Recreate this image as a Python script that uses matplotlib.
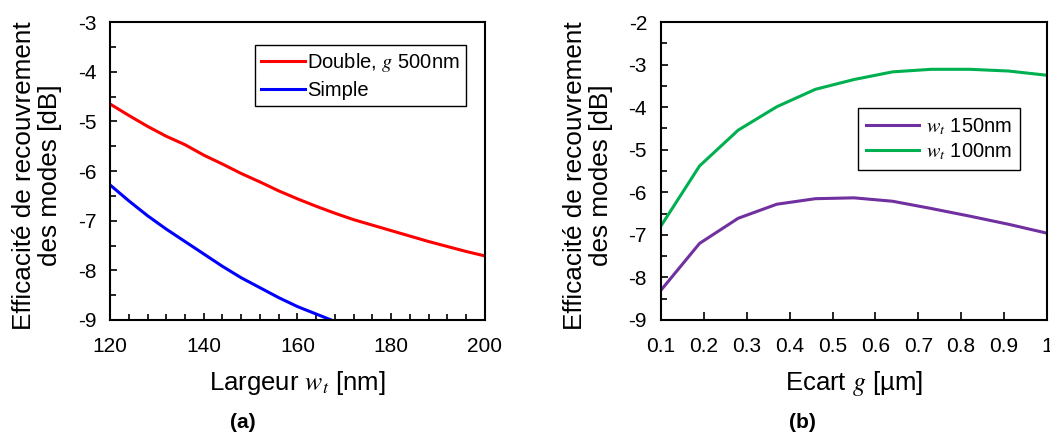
import matplotlib
matplotlib.use('AGG')
import matplotlib.pyplot as plt
from matplotlib.ticker import MultipleLocator

plt.rcParams['font.family'] = ['Liberation Sans', 'DejaVu Sans']
plt.rcParams['mathtext.fontset'] = 'stix'
plt.rcParams['axes.unicode_minus'] = False

# (a) largeur w_t [nm]
largeur = [120, 124, 128, 132, 136, 140, 144, 148, 152, 156, 160,
           164, 168, 172, 176, 180, 184, 188, 192, 196, 200]
double_g500 = [-4.65, -4.88, -5.10, -5.30, -5.47, -5.68, -5.86, -6.05, -6.22, -6.40, -6.56,
               -6.71, -6.85, -6.98, -7.09, -7.20, -7.31, -7.42, -7.52, -7.62, -7.71]
largeur_simple = [120, 124, 128, 132, 136, 140, 144, 148, 152, 156, 160, 164, 168, 172]
simple = [-6.28, -6.60, -6.90, -7.17, -7.42, -7.67, -7.92, -8.15, -8.35, -8.55, -8.73,
          -8.88, -9.03, -9.20]

# (b) ecart g [um]
ecart = [0.10, 0.19, 0.28, 0.37, 0.46, 0.55, 0.64, 0.73, 0.82, 0.91, 1.00]
wt150 = [-8.30, -7.20, -6.61, -6.28, -6.15, -6.13, -6.21, -6.38, -6.56, -6.75, -6.96]
wt100 = [-6.79, -5.38, -4.54, -3.99, -3.58, -3.35, -3.17, -3.11, -3.11, -3.15, -3.25]

ylab = 'Efficacité de recouvrement\ndes modes [dB]'

fig = plt.figure(figsize=(10.5, 4.44), dpi=100)
ax1 = fig.add_axes([0.1048, 0.2793, 0.357, 0.671])
ax2 = fig.add_axes([0.6295, 0.2793, 0.3676, 0.671])

ax1.plot(largeur, double_g500, color='#FF0000', lw=2.2, label='Double, $g$ 500nm')
ax1.plot(largeur_simple, simple, color='#0000FF', lw=2.2, label='Simple')
ax1.set_xlim(120, 200)
ax1.set_ylim(-9, -3)
ax1.xaxis.set_major_locator(MultipleLocator(20))
ax1.xaxis.set_minor_locator(MultipleLocator(4))
ax1.yaxis.set_major_locator(MultipleLocator(1))
ax1.yaxis.set_minor_locator(MultipleLocator(0.5))
ax1.set_xlabel('Largeur $w_t$ [nm]', fontsize=18.5)
ax1.set_ylabel(ylab, fontsize=18.8, linespacing=1.1)
ax1.yaxis.set_label_coords(-0.128, 0.485)
ax1.xaxis.set_label_coords(0.5, -0.165)
ax1.legend(loc='upper right', bbox_to_anchor=(0.949, 0.923), fontsize=14.5, fancybox=False,
           edgecolor='black', framealpha=1, handlelength=2.2, handletextpad=0.1,
           borderpad=0.3, labelspacing=0.35, borderaxespad=0)

ax2.plot(ecart, wt150, color='#7030A0', lw=2.2, label='$w_t$ 150nm')
ax2.plot(ecart, wt100, color='#00B050', lw=2.2, label='$w_t$ 100nm')
ax2.set_xlim(0.1, 1.0)
ax2.set_ylim(-9, -2)
ax2.set_xticks([0.1, 0.2, 0.3, 0.4, 0.5, 0.6, 0.7, 0.8, 0.9, 1.0])
ax2.set_xticklabels(['0.1', '0.2', '0.3', '0.4', '0.5', '0.6', '0.7', '0.8', '0.9', '1'])
ax2.yaxis.set_major_locator(MultipleLocator(1))
ax2.yaxis.set_minor_locator(MultipleLocator(0.5))
ax2.set_xlabel('Ecart $g$ [µm]', fontsize=18.5)
ax2.set_ylabel(ylab, fontsize=18.8, linespacing=1.1)
ax2.yaxis.set_label_coords(-0.124, 0.485)
ax2.xaxis.set_label_coords(0.5, -0.165)
ax2.legend(loc='upper right', bbox_to_anchor=(0.930, 0.711), fontsize=14.5, fancybox=False,
           edgecolor='black', framealpha=1, handlelength=2.6, handletextpad=0.35,
           borderpad=0.4, labelspacing=0.2, borderaxespad=0)

for ax in (ax1, ax2):
    ax.tick_params(which='both', direction='in', labelsize=15, width=1.2, pad=12)
    ax.tick_params(which='major', length=5)
    ax.tick_params(which='minor', length=4)
    ax.tick_params(axis='y', which='both', left=True, right=False, pad=10)
    ax.tick_params(axis='x', which='both', top=False)
    for s in ax.spines.values():
        s.set_linewidth(1.5)

ax2.xaxis.set_minor_locator(MultipleLocator(0.1))
ax2.tick_params(axis='x', which='major', length=6)

fig.text(0.231, 0.049, '(a)', fontsize=15, fontweight='bold', ha='center', va='center')
fig.text(0.764, 0.049, '(b)', fontsize=15, fontweight='bold', ha='center', va='center')

fig.savefig('out.png', dpi=100)
